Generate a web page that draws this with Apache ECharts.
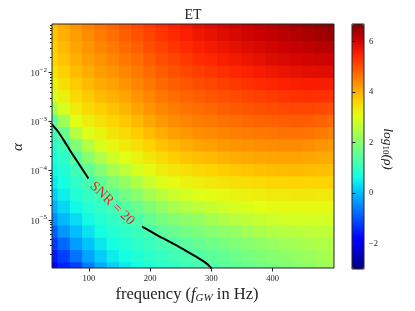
<!DOCTYPE html>
<html><head><meta charset="utf-8">
<script src="https://cdn.jsdelivr.net/npm/echarts@6/dist/echarts.min.js"></script>
<style>html,body{margin:0;padding:0;background:#fff}#c{width:415px;height:311px}</style>
</head><body><div id="c"></div>
<script>
// ---- data ----
const frequencies = [40,60,80,100,120,140,160,180,200,220,240,260,280,300,320,340,360,380,400,420,440,460,480,500];
const alphaExponents = [-1,-1.25,-1.5,-1.75,-2,-2.25,-2.5,-2.75,-3,-3.25,-3.5,-3.75,-4,-4.25,-4.5,-4.75,-5,-5.25,-5.5,-5.75,-6];
// log10(rho), one array per frequency, from alpha = 1e-1 (first) down to 1e-6 (last)
const rho040 = [3.87,3.8,3.72,3.6,3.4,3.2,2.94,2.32,1.45,1.12,0.9,0.72,0.58,0.43,0.18,-0.1,-0.45,-0.88,-1.25,-1.55,-1.85];
const rho060 = [4.1,4.02,3.93,3.82,3.68,3.5,3.27,2.92,2.25,1.6,1.18,0.95,0.8,0.66,0.48,0.25,-0.02,-0.35,-0.8,-1.2,-1.5];
const rho080 = [4.3,4.22,4.13,4.03,3.9,3.75,3.57,3.35,3.05,2.52,1.9,1.4,1.12,0.95,0.78,0.58,0.3,0.02,-0.29,-0.7,-1.2];
const rho100 = [4.5,4.4,4.31,4.2,4.07,3.93,3.75,3.55,3.28,2.98,2.52,2.0,1.55,1.2,1.0,0.82,0.6,0.35,0.08,-0.22,-0.6];
const rho120 = [4.65,4.55,4.44,4.33,4.21,4.08,3.93,3.7,3.47,3.23,2.92,2.45,1.95,1.55,1.2,1.0,0.84,0.63,0.4,0.15,-0.15];
const rho140 = [4.8,4.7,4.58,4.45,4.31,4.17,4.01,3.83,3.63,3.42,3.18,2.82,2.36,1.9,1.45,1.15,0.98,0.82,0.65,0.45,0.2];
const rho160 = [4.95,4.85,4.73,4.61,4.45,4.32,4.15,3.97,3.77,3.55,3.35,3.07,2.65,2.15,1.75,1.37,1.13,0.96,0.8,0.63,0.45];
const rho180 = [5.1,4.98,4.85,4.72,4.58,4.44,4.31,4.13,3.93,3.72,3.48,3.23,2.92,2.47,2.02,1.65,1.3,1.08,0.93,0.78,0.62];
const rho200 = [5.25,5.14,5.02,4.89,4.75,4.61,4.47,4.31,4.11,3.89,3.65,3.4,3.13,2.76,2.32,1.9,1.55,1.27,1.07,0.93,0.78];
const rho220 = [5.4,5.28,5.15,5.02,4.88,4.74,4.6,4.44,4.26,4.05,3.82,3.55,3.29,2.98,2.57,2.12,1.8,1.48,1.22,1.05,0.9];
const rho240 = [5.53,5.41,5.28,5.14,5.0,4.86,4.71,4.55,4.38,4.18,3.95,3.7,3.4,3.12,2.76,2.35,1.95,1.63,1.33,1.15,1.0];
const rho260 = [5.65,5.53,5.4,5.25,5.1,4.95,4.8,4.65,4.47,4.28,4.05,3.8,3.51,3.22,2.89,2.49,2.07,1.76,1.47,1.24,1.1];
const rho280 = [5.77,5.65,5.51,5.36,5.2,5.04,4.88,4.72,4.55,4.37,4.13,3.87,3.59,3.31,3.01,2.61,2.17,1.87,1.58,1.36,1.2];
const rho300 = [5.87,5.75,5.61,5.45,5.28,5.11,4.95,4.79,4.61,4.42,4.19,3.93,3.66,3.38,3.1,2.73,2.34,1.98,1.7,1.47,1.32];
const rho320 = [5.94,5.85,5.7,5.54,5.36,5.18,5.01,4.85,4.67,4.47,4.25,3.99,3.72,3.44,3.16,2.82,2.45,2.07,1.8,1.58,1.42];
const rho340 = [6.02,5.92,5.79,5.62,5.44,5.25,5.07,4.9,4.72,4.52,4.29,4.04,3.77,3.49,3.22,2.92,2.56,2.16,1.9,1.68,1.52];
const rho360 = [6.1,6.0,5.87,5.71,5.52,5.32,5.13,4.95,4.76,4.56,4.33,4.08,3.81,3.54,3.27,2.99,2.65,2.29,2.0,1.79,1.62];
const rho380 = [6.17,6.07,5.94,5.79,5.59,5.39,5.19,5.0,4.8,4.59,4.36,4.11,3.85,3.58,3.31,3.06,2.73,2.4,2.08,1.89,1.72];
const rho400 = [6.25,6.14,6.01,5.87,5.66,5.45,5.24,5.04,4.83,4.61,4.38,4.13,3.88,3.61,3.34,3.1,2.81,2.5,2.16,1.98,1.82];
const rho420 = [6.33,6.2,6.07,5.91,5.72,5.5,5.29,5.08,4.86,4.63,4.39,4.15,3.9,3.63,3.36,3.13,2.85,2.54,2.29,2.05,1.9];
const rho440 = [6.41,6.27,6.12,5.96,5.77,5.54,5.32,5.11,4.88,4.64,4.39,4.15,3.91,3.64,3.37,3.14,2.87,2.58,2.34,2.15,1.98];
const rho460 = [6.48,6.34,6.17,6.0,5.81,5.57,5.34,5.11,4.87,4.62,4.36,4.12,3.88,3.63,3.37,3.14,2.88,2.62,2.41,2.22,2.1];
const rho480 = [6.56,6.41,6.23,6.04,5.83,5.56,5.32,5.07,4.81,4.56,4.3,4.08,3.86,3.64,3.36,3.13,2.88,2.64,2.46,2.32,2.2];
const rho500 = [6.62,6.47,6.27,6.06,5.85,5.55,5.3,5.03,4.75,4.5,4.25,4.05,3.85,3.65,3.35,3.13,2.88,2.65,2.52,2.41,2.32];
const logRhoColumns = [rho040,rho060,rho080,rho100,rho120,rho140,rho160,rho180,rho200,rho220,rho240,rho260,rho280,rho300,rho320,rho340,rho360,rho380,rho400,rho420,rho440,rho460,rho480,rho500];

// SNR = 20 contour (frequency in Hz, log10 alpha), split around its label
const contourF1 = [40,50,58.5,70,80,90,99.5];
const contourL1 = [-3.06,-3.21,-3.37,-3.6,-3.79,-3.98,-4.16];
const contourF2 = [187,200,220,240,260,275,288,295,300.5];
const contourL2 = [-5.14,-5.23,-5.37,-5.5,-5.64,-5.75,-5.85,-5.92,-5.99];
const contourLabel = 'SNR = 20';
const contourLabelPos = [138, -4.67];

const xTicks = [100,200,300,400];
const yTicks = [1e-5,1e-4,1e-3,1e-2];
const cbarTicks = [-2,0,2,4,6];
const cbarMin = -3, cbarMax = 6.7;
const titleText = 'ET';

// ---- chart ----
const FONT = 'Liberation Serif';
const INK = '#222';
const jet = ['#000080','#0000c8','#0000ff','#0040ff','#0080ff','#00bfff','#14ffe2','#48ffaf','#7bff7b','#afff48','#e2ff14','#ffd200','#ff9700','#ff5c00','#ff2100','#c80000','#800000'];
const yMin = Math.pow(10,-5.98), yMax = Math.pow(10,-1.02);
const halfF = 10, halfL = 0.125;

const cells = [];
frequencies.forEach((f,i)=>{
  alphaExponents.forEach((L,j)=>{
    cells.push([f, Math.pow(10,L), logRhoColumns[i][j], L]);
  });
});
const minorTicks = [];
for (let e=-6;e<=-2;e++) for (let k=2;k<=9;k++){ const v=k*Math.pow(10,e); if (v>yMin && v<yMax) minorTicks.push(v); }

const supMinus = v => (v<0?'−':'')+Math.abs(v);

const chart = echarts.init(document.getElementById('c'), null, {renderer:'canvas'});
chart.setOption({
  animation:false,
  backgroundColor:'#fff',
  grid:[
    {left:52, top:24, width:282, height:244, show:true, borderColor:INK, borderWidth:1, backgroundColor:'transparent', z:10},
    {left:352, top:24, width:12, height:245, show:true, borderColor:INK, borderWidth:1, backgroundColor:'transparent', z:10}
  ],
  xAxis:[
    {gridIndex:0, type:'value', min:40, max:500, position:'bottom', z:10,
     axisLine:{show:false}, splitLine:{show:false},
     axisTick:{show:true, customValues:xTicks, length:3.5, lineStyle:{color:INK}},
     axisLabel:{customValues:xTicks, margin:6, fontFamily:FONT, fontSize:8.5, color:INK}},
    {gridIndex:1, type:'value', min:0, max:1, show:false}
  ],
  yAxis:[
    {gridIndex:0, type:'log', logBase:10, min:yMin, max:yMax, position:'left', z:10,
     axisLine:{show:false}, splitLine:{show:false},
     axisTick:{show:true, customValues:yTicks, length:3.5, lineStyle:{color:INK}},
     axisLabel:{customValues:yTicks, margin:5, color:INK,
       formatter: v => '{b|10}{s|' + supMinus(Math.round(Math.log10(v))) + '}',
       rich:{b:{fontFamily:FONT, fontSize:9, lineHeight:12, verticalAlign:'bottom', color:INK},
             s:{fontFamily:FONT, fontSize:7, lineHeight:7, verticalAlign:'top', color:INK}}}},
    {gridIndex:0, type:'log', logBase:10, min:yMin, max:yMax, position:'left', offset:0, z:10,
     axisLine:{show:false}, splitLine:{show:false}, axisLabel:{show:false},
     axisTick:{show:true, customValues:minorTicks, length:2, lineStyle:{color:INK}}},
    {gridIndex:1, type:'value', min:cbarMin, max:cbarMax, position:'right', z:10,
     axisLine:{show:false}, splitLine:{show:false},
     axisTick:{show:true, customValues:cbarTicks, length:3.5, lineStyle:{color:INK}},
     axisLabel:{customValues:cbarTicks, margin:5, fontFamily:FONT, fontSize:8.5, color:INK, formatter: v => supMinus(v)}}
  ],
  visualMap:{type:'continuous', min:cbarMin, max:cbarMax, dimension:2, seriesIndex:0,
    show:true, left:352, top:24, itemWidth:12, itemHeight:245, padding:0,
    calculable:false, hoverLink:false, inRange:{color:jet}},
  graphic:[
    {type:'text', x:193, y:15, silent:true,
     style:{text:titleText, font:'14px "Liberation Serif"', fill:INK, align:'center', verticalAlign:'middle', textAlign:'center', textVerticalAlign:'middle'}},
    {type:'text', x:18, y:147, rotation:Math.PI/2, silent:true,
     style:{text:'α', font:'italic 15px "Liberation Serif"', fill:INK, align:'center', verticalAlign:'middle', textAlign:'center', textVerticalAlign:'middle'}},
    {type:'text', x:187, y:294, silent:true,
     style:{text:'{n|frequency (}{i|f}{s|GW}{n| in Hz)}', align:'center', verticalAlign:'middle', textAlign:'center', textVerticalAlign:'middle',
       rich:{n:{fontFamily:FONT, fontSize:16.5, lineHeight:19, verticalAlign:'bottom', fill:INK, color:INK},
             i:{fontFamily:FONT, fontStyle:'italic', fontSize:16.5, lineHeight:19, verticalAlign:'bottom', fill:INK, color:INK},
             s:{fontFamily:FONT, fontStyle:'italic', fontSize:11, lineHeight:11, verticalAlign:'bottom', fill:INK, color:INK}}}},
    {type:'text', x:389, y:149, rotation:-Math.PI/2, silent:true,
     style:{text:'{i|log}{s|10}{i|(ρ)}', align:'center', verticalAlign:'middle', textAlign:'center', textVerticalAlign:'middle',
       rich:{i:{fontFamily:FONT, fontStyle:'italic', fontSize:13.5, lineHeight:16, verticalAlign:'bottom', fill:INK, color:INK},
             s:{fontFamily:FONT, fontSize:9, lineHeight:10, verticalAlign:'bottom', fill:INK, color:INK}}}}
  ],
  series:[
    {type:'custom', coordinateSystem:'cartesian2d', xAxisIndex:0, yAxisIndex:0, clip:true, silent:true, z:2,
     encode:{x:0, y:1}, data:cells,
     renderItem:(params, api)=>{
       const f = api.value(0), L = api.value(3);
       const p1 = api.coord([f-halfF, Math.pow(10, L+halfL)]);
       const p2 = api.coord([f+halfF, Math.pow(10, L-halfL)]);
       return {type:'rect', shape:{x:p1[0]-0.5, y:p1[1]-0.5, width:p2[0]-p1[0]+1, height:p2[1]-p1[1]+1},
               style:{fill:api.visual('color')}};
     }},
    {type:'line', xAxisIndex:0, yAxisIndex:0, silent:true, z:4, symbol:'none', smooth:0.3, clip:true,
     lineStyle:{color:'#000', width:2}, itemStyle:{color:'#000'},
     data:contourF1.map((f,i)=>[f, Math.pow(10, contourL1[i])])},
    {type:'line', xAxisIndex:0, yAxisIndex:0, silent:true, z:4, symbol:'none', smooth:0.3, clip:true,
     lineStyle:{color:'#000', width:2}, itemStyle:{color:'#000'},
     data:contourF2.map((f,i)=>[f, Math.pow(10, contourL2[i])])},
    {type:'custom', coordinateSystem:'cartesian2d', xAxisIndex:0, yAxisIndex:0, silent:true, z:5, clip:false,
     encode:{x:0, y:1},
     data:[[contourLabelPos[0], Math.pow(10, contourLabelPos[1])]],
     renderItem:(params, api)=>{
       const c = api.coord([api.value(0), api.value(1)]);
       return {type:'text', x:c[0], y:c[1], rotation:-44*Math.PI/180,
               style:{text:contourLabel, fill:'#ee2222', font:'14px "Liberation Serif"', align:'center', verticalAlign:'middle', textAlign:'center', textVerticalAlign:'middle'}};
     }}
  ]
});
</script></body></html>
